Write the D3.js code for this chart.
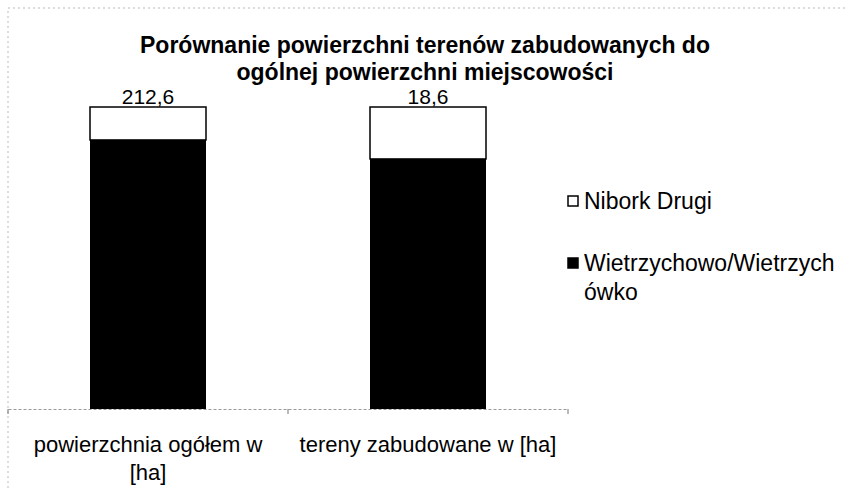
<!DOCTYPE html>
<html>
<head>
<meta charset="utf-8">
<script src="https://cdn.jsdelivr.net/npm/d3@7.9.0/dist/d3.min.js"></script>
<style>
  body { margin: 0; background: #fff; }
  svg { display: block; font-family: "Liberation Sans", Arial, sans-serif; }
</style>
</head>
<body>
<svg width="853" height="488"></svg>
<script>
// data (ha)
const categories = [["powierzchnia ogółem w", "[ha]"], ["tereny zabudowane w [ha]"]];
const totals = ["212,6", "18,6"];
const seriesNames = ["Wietrzychowo/Wietrzychówko", "Nibork Drugi"];
const wietrzychowo = [189.4, 15.4];
const nibork = [23.2, 3.2];
const legendLines = [["Nibork Drugi"], ["Wietrzychowo/Wietrzych", "ówko"]];

const svg = d3.select("svg");
const plot = { left: 8, right: 568, top: 107, bottom: 409 };

// chart area frame (faint, dotted like a scan)
svg.append("path")
  .attr("d", "M8,488 L8,8 L845,8")
  .attr("fill", "none")
  .attr("stroke", "#bbb")
  .attr("stroke-dasharray", "2,3");

const rows = categories.map((c, i) => ({
  idx: i,
  total: wietrzychowo[i] + nibork[i],
  w: wietrzychowo[i],
  n: nibork[i]
}));

const x = d3.scaleBand()
  .domain(rows.map(d => d.idx))
  .range([plot.left, plot.right])
  .paddingInner(0)
  .paddingOuter(0);

const y = d3.scaleLinear().domain([0, 1]).range([plot.bottom, plot.top]);

const barW = 116;

const g = svg.append("g");
const bars = g.selectAll("g.bar").data(rows).join("g").attr("class", "bar");

bars.append("rect")
  .attr("x", d => x(d.idx) + x.bandwidth() / 2 - barW / 2)
  .attr("width", barW)
  .attr("y", d => y(d.w / d.total))
  .attr("height", d => y(0) - y(d.w / d.total))
  .attr("fill", "#000");

bars.append("rect")
  .attr("x", d => x(d.idx) + x.bandwidth() / 2 - barW / 2)
  .attr("width", barW)
  .attr("y", d => y(1))
  .attr("height", d => y(d.w / d.total) - y(1))
  .attr("fill", "#fff")
  .attr("stroke", "#000")
  .attr("stroke-width", 1.5);

bars.append("text")
  .attr("x", d => x(d.idx) + x.bandwidth() / 2)
  .attr("y", y(1) - 3)
  .attr("text-anchor", "middle")
  .attr("font-size", 21)
  .text(d => totals[d.idx]);

// category axis
const axis = svg.append("g").attr("transform", `translate(0,${plot.bottom})`)
  .call(d3.axisBottom(x).tickSize(0).tickFormat(""));
axis.select(".domain").attr("stroke", "#999").attr("stroke-dasharray", "3,2");
axis.selectAll(".sep").data([plot.left, plot.left + x.bandwidth(), plot.right]).join("line")
  .attr("x1", d => d).attr("x2", d => d)
  .attr("y1", 0).attr("y2", 5)
  .attr("stroke", "#777");

categories.forEach((lines, i) => {
  const t = svg.append("text")
    .attr("text-anchor", "middle")
    .attr("font-size", 22);
  lines.forEach((ln, j) => {
    t.append("tspan")
      .attr("x", x(i) + x.bandwidth() / 2)
      .attr("y", 452 + j * 28)
      .text(ln);
  });
});

// title
const title = svg.append("text")
  .attr("text-anchor", "middle")
  .attr("font-size", 23)
  .attr("font-weight", "bold");
["Porównanie powierzchni terenów zabudowanych do", "ogólnej powierzchni miejscowości"]
  .forEach((ln, j) => title.append("tspan").attr("x", 425).attr("y", 53 + j * 27).text(ln));

// legend
const legendFill = ["#fff", "#000"];
const legendY = [201, 263];
legendLines.forEach((lines, i) => {
  svg.append("rect")
    .attr("x", 568).attr("y", legendY[i] - 5)
    .attr("width", 10).attr("height", 10)
    .attr("fill", legendFill[i])
    .attr("stroke", "#000").attr("stroke-width", 1.5);
  const t = svg.append("text").attr("font-size", 23);
  lines.forEach((ln, j) => {
    t.append("tspan").attr("x", 584).attr("y", legendY[i] + 8 + j * 29).text(ln);
  });
});
</script>
</body>
</html>
